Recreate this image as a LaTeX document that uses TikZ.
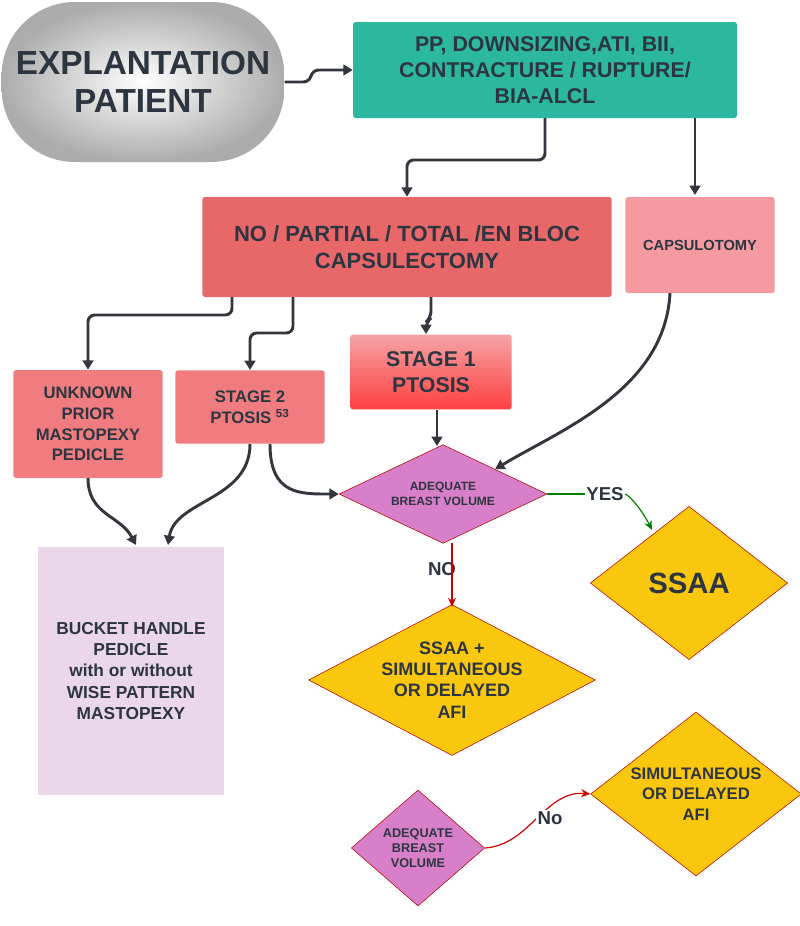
\documentclass[tikz,border=0pt]{standalone}
\usepackage{fontspec}
\setmainfont{Liberation Sans}
\usetikzlibrary{shapes.geometric,arrows.meta}
\definecolor{txt}{HTML}{2D3540}
\definecolor{teal}{HTML}{2BB89E}
\definecolor{cap}{HTML}{E8686A}
\definecolor{capl}{HTML}{F49AA0}
\definecolor{pk}{HTML}{F07C80}
\definecolor{dia}{HTML}{D77FC8}
\definecolor{yel}{HTML}{F9C80E}
\definecolor{lil}{HTML}{EAD7E9}
\definecolor{ln}{HTML}{33373D}
\begin{document}
\begin{tikzpicture}[x=0.75pt,y=-0.75pt,
 box/.style={rectangle,rounded corners=2pt,align=center,text=txt,font=\bfseries,inner sep=2pt},
 dm/.style={diamond,aspect=#1,align=center,text=txt,font=\bfseries,inner sep=0pt},
 con/.style={draw=ln,line width=2.2pt,-{Triangle[length=7pt,width=8pt]},rounded corners=5pt},
 thin/.style={line width=0.9pt,-{Stealth[length=7pt,width=6pt]}},
 lab/.style={font=\bfseries\fontsize{14}{16}\selectfont,text=txt,fill=white,inner sep=1pt}]
\useasboundingbox (0,0) rectangle (800,926);
\node[box,rounded corners=55pt,shade,inner color=white,outer color=gray!65,minimum width=212pt,minimum height=120pt,font=\bfseries\fontsize{25}{29}\selectfont] (ex) at (143,82) {EXPLANTATION\\PATIENT};
\node[box,fill=teal,minimum width=288pt,minimum height=72pt,font=\bfseries\fontsize{16}{19.5}\selectfont] (pp) at (545,70) {PP, DOWNSIZING,ATI, BII,\\CONTRACTURE / RUPTURE/\\BIA-ALCL};
\node[box,fill=cap,minimum width=307pt,minimum height=75pt,font=\bfseries\fontsize{16.5}{20}\selectfont] (ce) at (407,247) {NO / PARTIAL / TOTAL /EN BLOC\\CAPSULECTOMY};
\node[box,fill=capl,minimum width=112pt,minimum height=72pt,font=\bfseries\fontsize{11}{13}\selectfont] (co) at (700,245) {CAPSULOTOMY};
\node[box,top color=pk!70,bottom color=red!75,minimum width=121pt,minimum height=56pt,font=\bfseries\fontsize{16}{20}\selectfont] (s1) at (431,372) {STAGE 1\\PTOSIS};
\node[box,fill=pk,minimum width=112pt,minimum height=81pt,font=\bfseries\fontsize{12.5}{15.5}\selectfont] (uk) at (88,424) {UNKNOWN\\PRIOR\\MASTOPEXY\\PEDICLE};
\node[box,fill=pk,minimum width=112pt,minimum height=55pt,font=\bfseries\fontsize{12.5}{15.5}\selectfont] (s2) at (250,407) {STAGE 2\\PTOSIS \textsuperscript{53}};
\node[dm=2.1,fill=dia,draw=red!70!black,minimum width=156pt,minimum height=74pt,font=\bfseries\fontsize{9}{11}\selectfont] (d1) at (443,494) {ADEQUATE\\BREAST VOLUME};
\node[dm=1.25,fill=yel,draw=red!70!black,minimum width=148pt,minimum height=115pt,font=\bfseries\fontsize{22}{24}\selectfont] (ss) at (689,583) {SSAA};
\node[dm=1.9,fill=yel,draw=red!70!black,minimum width=202pt,minimum height=108pt,font=\bfseries\fontsize{13.5}{16}\selectfont] (sd) at (452,680) {SSAA +\\SIMULTANEOUS\\OR DELAYED\\AFI};
\node[box,fill=lil,rounded corners=0pt,minimum width=140pt,minimum height=186pt,font=\bfseries\fontsize{13}{16}\selectfont] (bh) at (131,671) {BUCKET HANDLE\\PEDICLE\\with or without\\WISE PATTERN\\MASTOPEXY};
\node[dm=1.15,fill=dia,draw=red!70!black,minimum width=100pt,minimum height=87pt,font=\bfseries\fontsize{9.5}{11.5}\selectfont] (d2) at (418,848) {ADEQUATE\\BREAST\\VOLUME};
\node[dm=1.3,fill=yel,draw=red!70!black,minimum width=158pt,minimum height=123pt,font=\bfseries\fontsize{12.5}{15.5}\selectfont] (sim) at (696,794) {SIMULTANEOUS\\OR DELAYED\\AFI};
\node[lab] (yes) at (605,494) {YES};
\node[lab] (no) at (442,569) {NO};
\node[lab] (no2) at (550,818) {No};
% connectors
\draw[con] (ex.east) -- (310,82) -- (312,70) -- (pp.west);
\draw[con] (545,118) -- (545,160) -- (407,160) -- (ce.north);
\draw[con] (695,118) -- (695,195);
\draw[con] (232,297) -- (232,315) -- (88,315) -- (uk.north);
\draw[con] (293,297) -- (293,333) -- (250,333) -- (s2.north);
\draw[con] (431,297) -- (431,318) -- (426,322) -- (426,334);
\draw[con,rounded corners=0pt] (670,293) .. controls (665,390) and (560,430) .. (d1.north east);
\draw[con] (437,410) -- (437,446);
\draw[con,rounded corners=0pt] (270,444) .. controls (270,495) and (300,494) .. (d1.west);
\draw[con,rounded corners=0pt] (250,444) .. controls (250,500) and (175,500) .. (168,545);
\draw[con,rounded corners=0pt] (88,478) .. controls (88,515) and (120,515) .. (136,545);
\draw[line width=0.9pt,draw=green!50!black] (d1.east) -- (yes.west);
\draw[thin,draw=green!50!black] (yes.east) .. controls (630,496) and (642,510) .. (652,530);
\draw[thin,draw=red!80!black] (452,543) -- (452,607);
\draw[thin,draw=red!80!black] (d2.east) .. controls (530,845) and (545,790) .. (sim.west);
\node[lab] at (no2) {No};
\end{tikzpicture}
\end{document}
